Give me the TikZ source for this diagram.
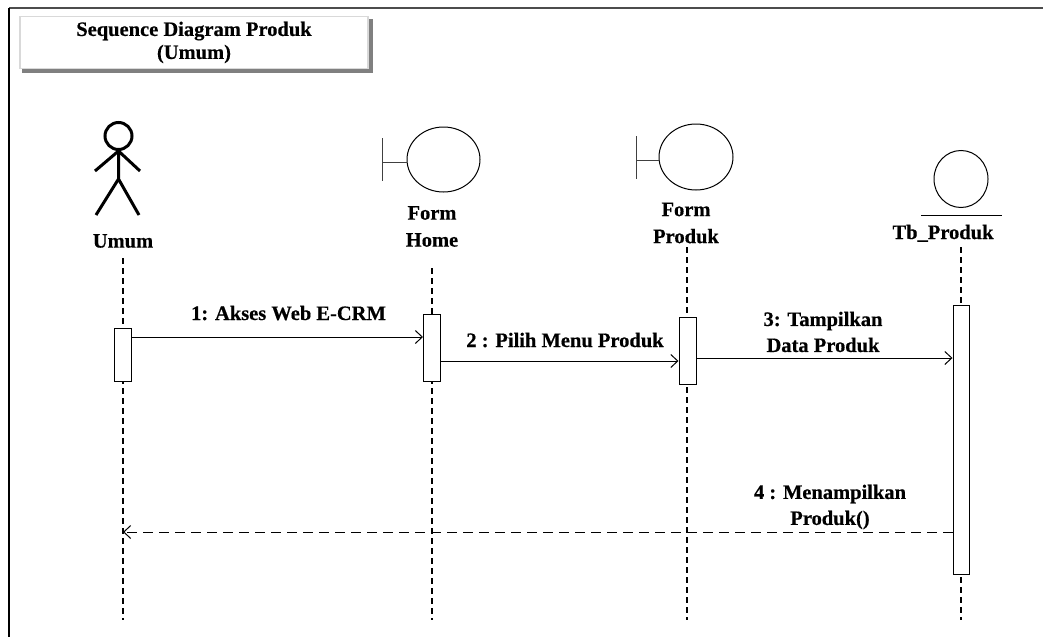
\documentclass[tikz,border=0pt]{standalone}
\usepackage{fontspec}
\setmainfont{Liberation Serif}[BoldFeatures={FakeBold=0.5}]
\usetikzlibrary{arrows.meta}

\tikzset{
    lbl/.style={font=\bfseries\fontsize{20.5}{26}\selectfont, align=center, inner sep=0pt},
    act/.style={draw, fill=white, line width=1pt, minimum width=17pt, inner sep=0pt},
    life/.style={line width=1.3pt, dash pattern=on 6pt off 4pt},
    msg/.style={line width=1pt, -{Straight Barb[length=7pt,width=13pt]}},
    ret/.style={msg, dash pattern=on 10pt off 6pt},
    thin/.style={line width=1pt},
    stick/.style={line width=3pt},
}

\begin{document}
\begin{tikzpicture}[x=1pt, y=-1pt]
    \useasboundingbox (0,0) rectangle (1043,637);
    \draw[line width=2pt, black!70] (9,8) -- (1043,8);
    \draw[line width=2pt] (9,8) -- (9,637);

    % Title box
    \node[lbl, draw=black!15, line width=1.5pt, minimum width=348pt, minimum height=52pt,
          font=\bfseries\fontsize{20.5}{23}\selectfont] (title) at (194,42.5)
          {Sequence Diagram Produk\\(Umum)};
    \fill[black!50] ([xshift=3pt]title.south west) rectangle ([xshift=4pt,yshift=-4pt]title.south east);
    \fill[black!50] ([yshift=-3pt]title.north east) rectangle ([xshift=4pt,yshift=-4pt]title.south east);

    % Actor
    \draw[stick] (118.5,136) circle[radius=13.5];
    \draw[stick] (118.5,149.5) -- (118.5,179)
                 (96,215) -- (118.5,179) -- (139,215)
                 (95,171) -- (118.5,151) -- (140,171);
    % Boundaries
    \draw[thin] (443.5,159.5) ellipse[x radius=36.5, y radius=32.5];
    \draw[thin, black!75] (382,138) -- (382,181) (382,162) -- (407,162);
    \draw[thin] (696,157) ellipse[x radius=37, y radius=33];
    \draw[thin, black!75] (636,136) -- (636,179) (636,160) -- (659,160);
    % Entity
    \draw[thin] (961,179) ellipse[x radius=27, y radius=28.5];
    \draw[thin] (921,215) -- (1002,215);

    \node[lbl] (umum)   at (123,241)   {Umum};
    \node[lbl, font=\bfseries\fontsize{20.5}{27}\selectfont] (home)   at (432,226.5) {Form\\Home};
    \node[lbl, font=\bfseries\fontsize{20.5}{27}\selectfont] (produk) at (686,223)   {Form\\Produk};
    \node[lbl, anchor=base] (tb) at (943,239) {Tb\_Produk};

    % Lifelines
    \coordinate (uTop) at (123,258);  \coordinate (uBot) at (123,620);
    \coordinate (hTop) at (432,268);  \coordinate (hBot) at (432,620);
    \coordinate (pTop) at (687,247);  \coordinate (pBot) at (687,620);
    \coordinate (tTop) at (961,247);  \coordinate (tBot) at (961,620);
    \draw[life] (uTop) -- (uBot);
    \draw[life] (hTop) -- (hBot);
    \draw[life] (pTop) -- (pBot);
    \draw[life] (tTop) -- (tBot);

    \node[act, minimum height=53pt] (actUmum)   at (122.5,354.5) {};
    \node[act, minimum height=67pt] (actHome)   at (432,347.5)   {};
    \node[act, minimum height=67pt] (actProduk) at (687.5,350.5) {};
    \node[act, minimum width=16pt, minimum height=269pt] (actTb) at (961,439.5) {};

    % Messages
    \coordinate (y1) at (0,337);
    \coordinate (y2) at (0,361);
    \coordinate (y3) at (0,358);
    \coordinate (y4) at (0,532);
    \draw[msg] (actUmum.east |- y1) -- (actHome.west |- y1);
    \draw[msg] (actHome.east |- y2) -- (actProduk.west |- y2);
    \draw[msg] (actProduk.east |- y3) -- (actTb.west |- y3);
    \draw[ret] (actTb.west |- y4) -- (uTop |- y4);

    \node[lbl, anchor=base] (m1) at (288.5,320) {1: Akses Web E-CRM};
    \node[lbl, anchor=base] (m2) at (565,347)   {2 : Pilih Menu Produk};
    \node[lbl] (m3) at (823,332) {3: Tampilkan\\Data Produk};
    \node[lbl, font=\bfseries\fontsize{20.5}{26}\selectfont] (m4) at (830,507) {4 : Menampilkan\\Produk()};
\end{tikzpicture}
\end{document}
